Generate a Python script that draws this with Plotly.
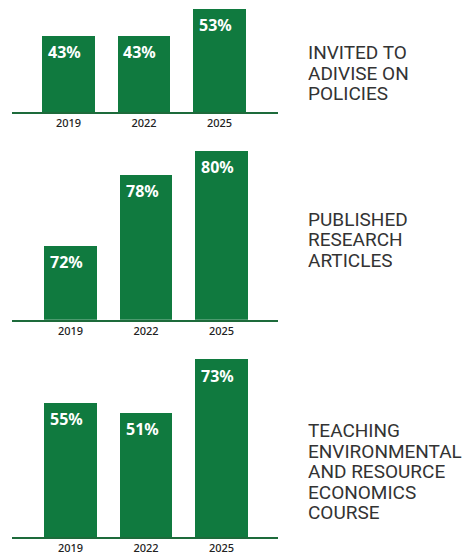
import plotly.graph_objects as go

# ---- data ----
years = ["2019", "2022", "2025"]
policy_pct = [43, 43, 53]
research_pct = [72, 78, 80]
teaching_pct = [55, 51, 73]
panel_titles = [
    "INVITED TO<br>ADIVISE ON<br>POLICIES",
    "PUBLISHED<br>RESEARCH<br>ARTICLES",
    "TEACHING<br>ENVIRONMENTAL<br>AND RESOURCE<br>ECONOMICS<br>COURSE",
]

# page body has an 8px margin, so the figure is shifted by 8px
OFF = 8
W, H = 472 - OFF, 555 - OFF
GREEN = "#107a3f"
LINE = "#1d6b3b"
TEXT = "#333333"

def px_x(px):
    return (px - OFF) / W

def px_y(px):
    return 1 - (px - OFF) / H

series = [policy_pct, research_pct, teaching_pct]
panels = [
    dict(bottom=113, top=OFF, scale=2.7, base=14.48, xr=[-0.748, 2.775], title_top=44, pitch=21),
    dict(bottom=322, top=140, scale=12.0, base=65.83, xr=[-0.775, 2.748], title_top=212, pitch=21),
    dict(bottom=541, top=350, scale=2.45, base=0.0, xr=[-0.775, 2.748], title_top=425.5, pitch=20.6),
]

fig = go.Figure()
annotations = []
for i, (vals, p) in enumerate(zip(series, panels)):
    n = "" if i == 0 else str(i + 1)
    yrange = [p["base"], p["base"] + (p["bottom"] - p["top"]) / p["scale"]]
    fig.add_trace(go.Bar(
        x=years, y=vals, xaxis="x" + n, yaxis="y" + n,
        marker=dict(color=GREEN, line=dict(width=0)),
        width=0.70, hoverinfo="skip", showlegend=False,
    ))
    fig.update_layout(**{
        "xaxis" + n: dict(
            domain=[px_x(12), px_x(278)], range=p["xr"], type="category",
            anchor="y" + n, showline=True, linecolor=LINE, linewidth=1.5,
            showgrid=False, zeroline=False, ticks="", ticklabelstandoff=0,
            tickfont=dict(family="Noto Sans", size=11, color="#222222", weight=500),
            fixedrange=True,
        ),
        "yaxis" + n: dict(
            domain=[px_y(p["bottom"]), px_y(p["top"])], range=yrange,
            anchor="x" + n, visible=False, fixedrange=True,
        ),
    })
    for j, v in enumerate(vals):
        annotations.append(dict(
            x=j, y=v, xref="x" + n, yref="y" + n, text=f"{v}%",
            showarrow=False, xanchor="center", yanchor="top",
            xshift=-4, yshift=-3,
            font=dict(family="Noto Sans", size=16, color="white", weight="bold"),
        ))
    for k, line in enumerate(panel_titles[i].split("<br>")):
        cap_top = p["title_top"] + k * p["pitch"]
        annotations.append(dict(
            x=px_x(307), y=px_y(cap_top - 4), xref="paper", yref="paper",
            text=line, showarrow=False, xanchor="left", yanchor="top",
            height=18, borderpad=0, valign="top",
            font=dict(family="Roboto", size=19, color=TEXT),
        ))

fig.update_layout(
    width=W, height=H, margin=dict(l=0, r=0, t=0, b=0),
    paper_bgcolor="white", plot_bgcolor="white",
    annotations=annotations, bargap=0,
)
fig.write_html("out.html")
